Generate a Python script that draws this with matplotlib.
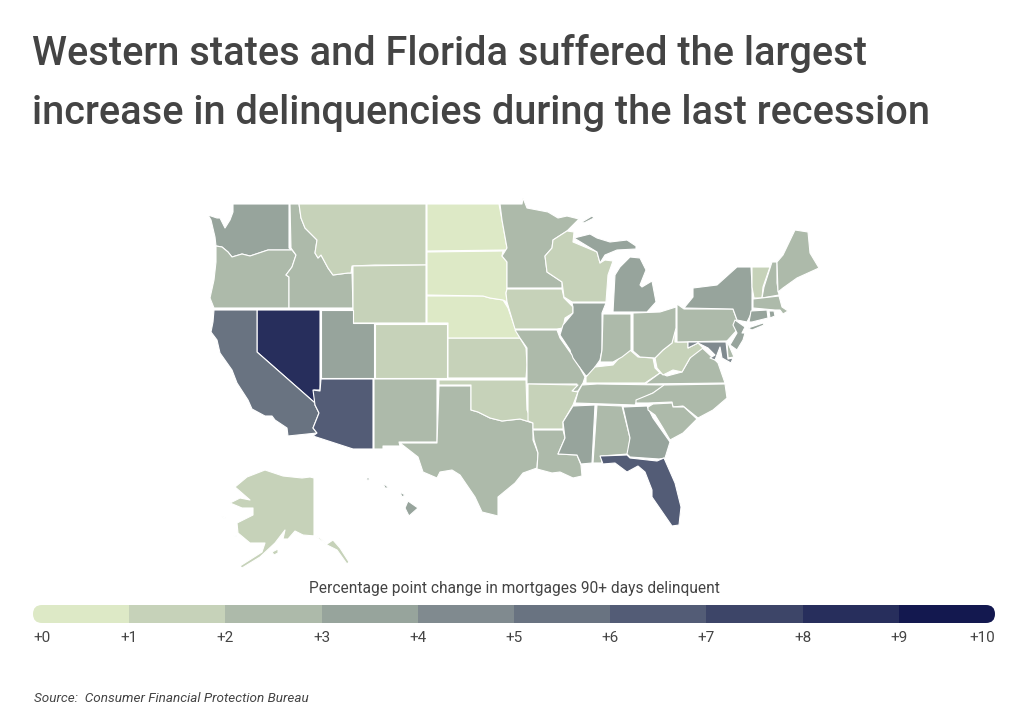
import matplotlib
matplotlib.use("Agg")
import matplotlib.pyplot as plt
from matplotlib.colors import BoundaryNorm, ListedColormap
from matplotlib.patches import FancyBboxPatch, Polygon

plt.rcParams["font.family"] = ["Roboto", "DejaVu Sans"]

TITLE_LINES = ["Western states and Florida suffered the largest",
               "increase in delinquencies during the last recession"]
LEGEND_TITLE = "Percentage point change in mortgages 90+ days delinquent"
SOURCE = "Source:  Consumer Financial Protection Bureau"
TEXT_COLOUR = "#444444"

# legend bins
bin_edges = [0, 1, 2, 3, 4, 5, 6, 7, 8, 9, 10]
bin_labels = ["+0", "+1", "+2", "+3", "+4", "+5", "+6", "+7", "+8", "+9", "+10"]
bin_colours = ["#dde9c6", "#c6d2b9", "#adbaaa", "#97a49c", "#808a8f",
               "#697381", "#535c76", "#3d4568", "#272e5c", "#13184f"]

# percentage point change, estimated from the bin colour of each state
state_values = {
    "WA": 3.5, "OR": 2.5, "CA": 5.5, "NV": 8.5, "ID": 2.5, "MT": 1.5, "WY": 1.5,
    "UT": 3.5, "AZ": 6.5, "CO": 1.5, "NM": 2.5, "ND": 0.5, "SD": 0.5, "NE": 0.5,
    "KS": 1.5, "OK": 1.5, "TX": 2.5, "MN": 2.5, "IA": 1.5, "MO": 2.5, "AR": 1.5,
    "LA": 2.5, "WI": 1.5, "IL": 3.5, "MS": 3.5, "MI": 3.5, "IN": 2.5, "OH": 2.5,
    "KY": 1.5, "TN": 2.5, "AL": 2.5, "GA": 3.5, "FL": 6.5, "SC": 2.5, "NC": 2.5,
    "VA": 2.5, "WV": 1.5, "PA": 2.5, "NY": 3.5, "VT": 1.5, "NH": 2.5, "ME": 2.5,
    "MA": 2.5, "CT": 3.5, "RI": 3.5, "NJ": 3.5, "DE": 2.5, "MD": 4.5, "AK": 1.5,
    "HI": 3.5,
}

# state outlines, one list per land piece
state_shapes = {
    "WA": [[(233, 204), (289, 204), (289, 248), (292, 250), (268, 250), (262, 252), (250, 256), (242, 254), (232, 257), (228, 252), (222, 247), (216, 246), (215, 237), (211, 220), (208, 215), (217, 218), (220, 218), (225, 228), (230, 220), (233, 212)]],
    "OR": [[(216, 246), (222, 247), (228, 252), (232, 257), (242, 254), (250, 256), (262, 252), (268, 250), (292, 250), (296, 255), (292, 267), (286, 275), (289, 277), (289, 308), (214, 308), (210, 298), (214, 280), (216, 262)]],
    "ID": [[(290, 204), (299, 204), (301, 218), (305, 228), (317, 240), (315, 253), (318, 258), (321, 255), (328, 268), (333, 275), (348, 273), (352, 273), (353, 308), (289, 308), (289, 277), (286, 275), (292, 267), (296, 255), (291, 248)]],
    "MT": [[(299, 204), (426, 204), (426, 265), (375, 265), (352, 266), (351, 273), (348, 273), (333, 275), (328, 268), (321, 255), (318, 258), (315, 253), (317, 240), (305, 228), (301, 218)]],
    "WY": [[(353, 266), (426, 265), (426, 323), (353, 323)]],
    "NV": [[(257, 310), (320, 310), (320, 390), (314, 390), (315, 403), (257, 352)]],
    "CA": [[(214, 310), (257, 310), (257, 352), (315, 403), (315, 405), (319, 413), (315, 423), (313, 428), (317, 433), (288, 436), (287, 428), (275, 420), (272, 416), (265, 416), (252, 409), (248, 400), (237, 383), (232, 370), (220, 353), (217, 340), (211, 332), (213, 322)]],
    "UT": [[(321, 310), (353, 310), (353, 323), (374, 323), (374, 378), (321, 378)]],
    "CO": [[(375, 324), (447, 324), (447, 378), (375, 378)]],
    "AZ": [[(321, 379), (373, 379), (373, 449), (353, 449), (313, 436), (317, 433), (313, 428), (315, 423), (319, 413), (315, 405), (313, 390), (320, 391)]],
    "NM": [[(374, 379), (437, 379), (437, 442), (399, 442), (400, 446), (383, 446), (383, 449), (374, 449)]],
    "TX": [[(439, 386), (471, 386), (471, 410), (478, 412), (490, 418), (502, 421), (520, 419), (533, 423), (533, 440), (538, 453), (537, 468), (523, 473), (515, 483), (498, 497), (498, 516), (482, 512), (475, 497), (460, 475), (452, 470), (440, 472), (437, 478), (423, 472), (418, 457), (400, 443), (437, 443)]],
    "OK": [[(439, 380), (526, 380), (527, 410), (533, 423), (520, 419), (502, 421), (490, 418), (478, 412), (471, 410), (471, 385), (439, 385)]],
    "KS": [[(448, 338), (520, 338), (526, 348), (527, 365), (526, 378), (448, 378)]],
    "NE": [[(427, 296), (483, 296), (490, 298), (503, 300), (508, 308), (515, 328), (520, 338), (448, 338), (448, 323), (427, 323)]],
    "SD": [[(427, 252), (503, 251), (502, 256), (507, 262), (507, 288), (506, 293), (507, 302), (503, 300), (490, 298), (483, 296), (427, 295)]],
    "ND": [[(427, 204), (499, 204), (502, 220), (507, 248), (506, 250), (427, 251)]],
    "MN": [[(500, 204), (522, 204), (523, 198), (527, 208), (548, 212), (558, 218), (567, 216), (579, 219), (567, 231), (553, 240), (552, 248), (545, 256), (547, 272), (562, 282), (562, 288), (507, 288), (507, 262), (502, 256), (507, 248), (502, 220)]],
    "IA": [[(507, 289), (562, 289), (564, 298), (573, 307), (573, 313), (565, 318), (563, 328), (557, 329), (515, 329), (507, 302), (506, 293)]],
    "WI": [[(553, 240), (567, 231), (574, 232), (573, 242), (597, 252), (600, 263), (605, 260), (613, 261), (608, 275), (606, 302), (572, 302), (564, 297), (562, 282), (547, 272), (545, 256), (552, 248)]],
    "IL": [[(572, 303), (606, 303), (602, 313), (602, 350), (600, 360), (595, 367), (594, 373), (586, 376), (580, 368), (572, 358), (570, 350), (560, 335), (563, 325), (573, 313), (573, 307)]],
    "MO": [[(515, 330), (557, 330), (560, 338), (572, 355), (573, 358), (580, 368), (585, 377), (583, 383), (578, 391), (572, 392), (577, 384), (527, 384), (527, 379), (527, 348), (520, 338)]],
    "AR": [[(528, 384), (578, 385), (572, 391), (578, 392), (573, 405), (563, 422), (563, 429), (533, 429), (533, 423), (528, 421)]],
    "LA": [[(533, 430), (563, 430), (565, 438), (558, 454), (577, 455), (581, 465), (582, 476), (573, 478), (560, 472), (552, 473), (537, 469), (538, 453), (534, 440)]],
    "MS": [[(573, 406), (595, 405), (592, 463), (581, 464), (577, 455), (558, 454), (565, 438), (563, 422)]],
    "AL": [[(597, 405), (622, 406), (630, 438), (628, 454), (601, 456), (602, 463), (593, 463)]],
    "GA": [[(623, 407), (647, 406), (653, 418), (670, 442), (665, 458), (659, 459), (630, 457), (627, 454), (630, 438)]],
    "FL": [[(600, 456), (627, 455), (630, 458), (657, 461), (664, 458), (675, 483), (681, 507), (679, 525), (672, 526), (652, 497), (652, 490), (645, 472), (638, 466), (627, 472), (615, 463), (603, 464)]],
    "TN": [[(582, 385), (597, 384), (665, 385), (653, 393), (637, 401), (635, 405), (575, 403), (578, 392)]],
    "KY": [[(586, 383), (586, 377), (595, 367), (613, 365), (620, 357), (630, 350), (638, 357), (653, 358), (655, 368), (660, 373), (645, 383), (597, 383)]],
    "VA": [[(645, 384), (660, 373), (667, 376), (682, 372), (690, 358), (698, 344), (713, 358), (718, 363), (725, 383)]],
    "NC": [[(664, 385), (725, 384), (727, 398), (713, 410), (698, 418), (683, 406), (673, 407), (672, 402), (648, 403), (636, 403), (636, 400), (653, 393)]],
    "SC": [[(648, 407), (653, 404), (672, 403), (673, 407), (684, 407), (697, 419), (683, 433), (670, 440), (663, 428), (655, 415), (648, 410)]],
    "WV": [[(675, 328), (675, 342), (688, 342), (688, 348), (698, 343), (703, 348), (690, 358), (682, 372), (673, 370), (663, 375), (657, 368), (655, 358), (663, 350), (672, 343)]],
    "OH": [[(633, 313), (660, 312), (676, 307), (676, 328), (672, 343), (663, 350), (655, 358), (640, 357), (633, 351)]],
    "IN": [[(603, 314), (631, 314), (631, 350), (622, 357), (613, 362), (600, 362), (602, 350)]],
    "MI": [[(613, 312), (615, 275), (620, 267), (630, 257), (640, 258), (646, 270), (640, 285), (642, 287), (652, 281), (656, 302), (647, 312)],
           [(574, 238), (590, 234), (597, 238), (610, 242), (627, 240), (636, 246), (636, 249), (617, 250), (605, 255), (600, 263), (597, 252)],
           [(582, 222), (592, 216), (594, 218), (584, 223)]],
    "PA": [[(677, 304), (684, 309), (733, 309), (737, 320), (735, 322), (737, 330), (727, 341), (677, 342)]],
    "NY": [[(684, 308), (693, 297), (693, 288), (717, 285), (737, 267), (751, 267), (752, 285), (752, 312), (747, 322), (737, 320), (733, 309)],
           [(748, 328), (763, 323), (764, 325), (752, 330)]],
    "VT": [[(752, 267), (770, 267), (763, 287), (762, 298), (754, 298), (752, 287)]],
    "NH": [[(772, 262), (777, 262), (777, 283), (779, 295), (762, 298), (764, 287)]],
    "ME": [[(778, 292), (777, 262), (783, 255), (795, 230), (808, 232), (810, 253), (819, 268), (797, 278), (783, 288)]],
    "MA": [[(753, 299), (779, 296), (782, 307), (788, 311), (783, 314), (780, 310), (775, 310), (753, 308)]],
    "CT": [[(751, 311), (767, 310), (768, 318), (752, 322), (749, 322)]],
    "RI": [[(769, 311), (774, 311), (775, 316), (770, 318)]],
    "NJ": [[(735, 320), (745, 327), (742, 333), (745, 333), (743, 340), (737, 350), (730, 345), (737, 333), (733, 325)]],
    "DE": [[(727, 341), (734, 357), (728, 358)]],
    "MD": [[(688, 342), (726, 342), (728, 359), (733, 358), (731, 363), (722, 358), (720, 347), (715, 360), (710, 358), (715, 355), (708, 348), (698, 343), (688, 348)]],
    "AK": [[(314, 478), (314, 535), (320, 538), (327, 544), (333, 540), (340, 548), (349, 562), (347, 564), (337, 550), (327, 545), (315, 536), (303, 535), (295, 531), (288, 539), (283, 539), (285, 530), (275, 543), (260, 557), (242, 568), (240, 566), (262, 552), (265, 543), (250, 543), (238, 533), (237, 523), (253, 515), (253, 508), (242, 508), (230, 503), (240, 498), (250, 500), (235, 487), (247, 477), (265, 470), (283, 476), (302, 478), (310, 477)],
           [(272, 552), (278, 549), (278, 553), (274, 555)],
           [(221, 516), (226, 518), (225, 519)],
           [(233, 535), (237, 536), (235, 537)]],
    "HI": [[(408, 501), (418, 508), (409, 516), (405, 508)],
           [(400, 492), (405, 495), (402, 497)],
           [(383, 483), (389, 488), (385, 488)],
           [(366, 478), (370, 478), (368, 481)]],
}

################################################################################
# Main
if __name__ == "__main__":
    cmap = ListedColormap(bin_colours)
    norm = BoundaryNorm(bin_edges, cmap.N)

    fig = plt.figure(figsize=(10.24, 7.15), dpi=100)
    ax = fig.add_axes([0, 0, 1, 1])
    ax.set_xlim(0, 1024)
    ax.set_ylim(715, 0)
    ax.axis("off")

    # title
    ax.text(32, 65, TITLE_LINES[0], fontsize=28.6, fontweight="medium",
            color=TEXT_COLOUR, va="baseline")
    ax.text(32, 124, TITLE_LINES[1], fontsize=28.6, fontweight="medium",
            color=TEXT_COLOUR, va="baseline")

    # map
    for state, pieces in state_shapes.items():
        colour = cmap(norm(state_values[state]))
        for piece in pieces:
            ax.add_patch(Polygon(piece, closed=True, facecolor=colour,
                                 edgecolor="white", linewidth=0.8,
                                 joinstyle="round"))

    # legend bar, the bins are clipped to one rounded box
    leg_ax = fig.add_axes([33 / 1024, 1 - 623 / 715, 962 / 1024, 18 / 715])
    leg_ax.set_xlim(0, 10)
    leg_ax.set_ylim(0, 1)
    leg_ax.axis("off")
    bars = leg_ax.bar(bin_edges[:-1], 1, width=1, align="edge", color=bin_colours)
    clip = FancyBboxPatch((33, 605), 962, 18, boxstyle="round,pad=0,rounding_size=9",
                          transform=ax.transData, facecolor="none", edgecolor="none")
    for bar in bars:
        bar.set_clip_path(clip)

    ax.text(514, 589, LEGEND_TITLE, fontsize=11.2, color=TEXT_COLOUR,
            ha="center", va="center")
    for i, label in enumerate(bin_labels):
        x = 33 + 962 * bin_edges[i] / 10
        align = "left" if i == 0 else "right" if i == 10 else "center"
        ax.text(x, 638, label, fontsize=11, color=TEXT_COLOUR, ha=align, va="center")

    # source
    ax.text(34, 699, SOURCE, fontsize=9.7, style="italic", color=TEXT_COLOUR,
            ha="left", va="center")

    plt.savefig("out.png", dpi=100)
    plt.close()
